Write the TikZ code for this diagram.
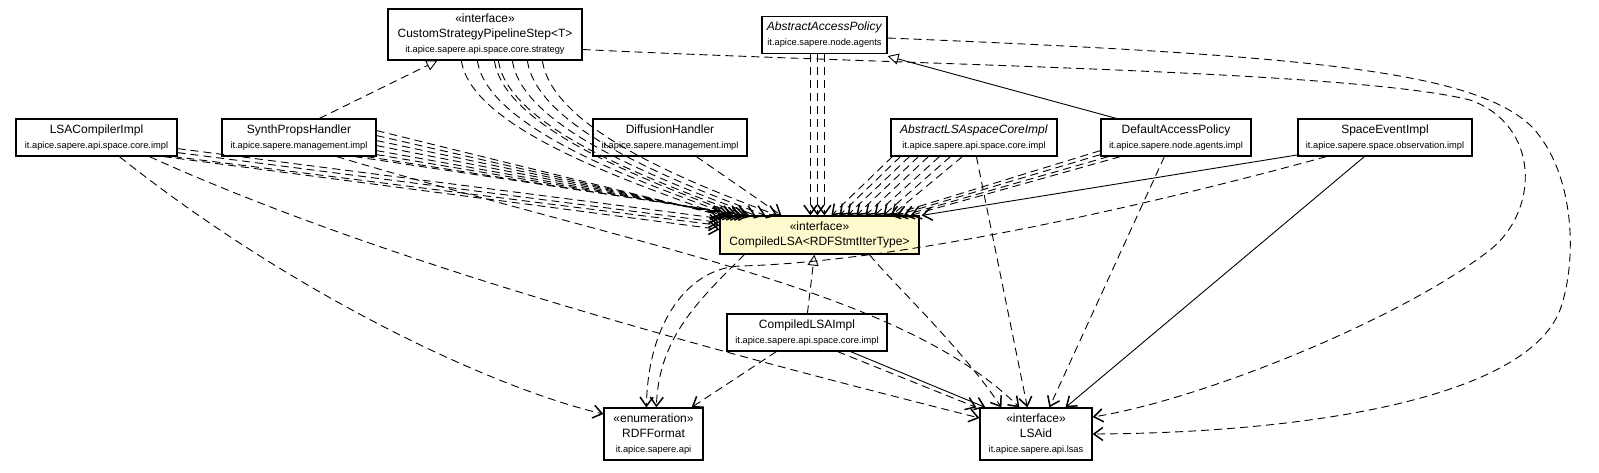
\documentclass[tikz,border=0pt]{standalone}
\usepackage{fontspec}
\setmainfont{Liberation Sans}
\usetikzlibrary{arrows.meta,calc}
\definecolor{lemon}{RGB}{255,250,205}
\newcommand{\pkg}[1]{{\fontsize{9.3}{11}\selectfont #1}}

\begin{document}
\begin{tikzpicture}[x=1pt,y=-1pt,
  cls/.style={draw,line width=1.2pt,fill=white,inner sep=0pt,align=center,font=\fontsize{12}{15}\selectfont},
  dep/.style={line width=0.9pt,dash pattern=on 8pt off 5pt,-{Straight Barb[length=9pt,width=13pt,line width=1.5pt]}},
  nav/.style={line width=0.9pt,-{Straight Barb[length=9pt,width=13pt,line width=1.5pt]}},
  real/.style={line width=0.9pt,dash pattern=on 8pt off 5pt,-{Triangle[length=11pt,width=11pt,fill=white]}},
  gen/.style={line width=0.9pt,-{Triangle[length=11pt,width=11pt,fill=white]}}]

  \fill[white] (0,0) rectangle (1599,472);
  \useasboundingbox (0,0) rectangle (1599,472);

  % classes
  \node[cls,minimum width=194pt,minimum height=51pt] (cssp) at (485,34.5)
    {«interface»\\CustomStrategyPipelineStep<T>\\\pkg{it.apice.sapere.api.space.core.strategy}};
  \node[cls,minimum width=125pt,minimum height=37pt] (aap) at (824.5,35)
    {\textit{AbstractAccessPolicy}\\\pkg{it.apice.sapere.node.agents}};
  \node[cls,minimum width=161pt,minimum height=37pt] (lsac) at (96.5,137.5)
    {LSACompilerImpl\\\pkg{it.apice.sapere.api.space.core.impl}};
  \node[cls,minimum width=154pt,minimum height=37pt] (synth) at (299,137.5)
    {SynthPropsHandler\\\pkg{it.apice.sapere.management.impl}};
  \node[cls,minimum width=154pt,minimum height=37pt] (diff) at (670,137.5)
    {DiffusionHandler\\\pkg{it.apice.sapere.management.impl}};
  \node[cls,minimum width=166pt,minimum height=37pt] (alsa) at (974,137.5)
    {\textit{AbstractLSAspaceCoreImpl}\\\pkg{it.apice.sapere.api.space.core.impl}};
  \node[cls,minimum width=150pt,minimum height=37pt] (dap) at (1176,137.5)
    {DefaultAccessPolicy\\\pkg{it.apice.sapere.node.agents.impl}};
  \node[cls,minimum width=174pt,minimum height=37pt] (sei) at (1385,137.5)
    {SpaceEventImpl\\\pkg{it.apice.sapere.space.observation.impl}};
  \node[cls,fill=lemon,minimum width=199pt,minimum height=38pt] (clsa) at (819.5,235)
    {«interface»\\CompiledLSA<RDFStmtIterType>};
  \node[cls,minimum width=160pt,minimum height=37pt] (clsai) at (807,332.5)
    {CompiledLSAImpl\\\pkg{it.apice.sapere.api.space.core.impl}};
  \node[cls,minimum width=99pt,minimum height=52pt] (rdf) at (653.5,434)
    {«enumeration»\\RDFFormat\\\pkg{it.apice.sapere.api}};
  \node[cls,minimum width=112pt,minimum height=52pt] (lsaid) at (1036,434)
    {«interface»\\LSAid\\\pkg{it.apice.sapere.api.lsas}};

  % inheritance
  \draw[real] ($(synth.north west)+(98,0)$) -- ($(cssp.south west)+(50,0)$);
  \draw[gen] ($(dap.north west)+(16,0)$) -- ($(aap.south east)+(0,2)$);
  \draw[real] ($(clsai.north west)+(81,0)$) -- ($(clsa.south west)+(95,0)$);

  % dependencies on CompiledLSA
  \foreach \a/\b in {74/2,90/12,107/20,111/27,125/36,140/46,155/58}
    \draw[dep] ($(cssp.south west)+(\a,0)$) .. controls +(10,70) and +(-80,-30) .. ($(clsa.north west)+(\b,0)$);
  \foreach \a/\b/\c in {0/-8/3,0/-4/7,-4/0/10,-14/0/14}
    \draw[dep] ($(lsac.south east)+(\a,\b)$) -- ($(clsa.north west)+(0,\c)$);
  \foreach \a/\b/\c in {0/-26/2,0/-21/6,0/-16/10,0/-11/14,0/-6/18,0/-2/22,-10/0/26,-22/0/30}
    \draw[dep] ($(synth.south east)+(\a,\b)$) -- ($(clsa.north west)+(\c,0)$);
  \draw[dep] ($(diff.south west)+(104,0)$) -- ($(clsa.north west)+(62,0)$);
  \foreach \a/\b in {49/91,56/98,63/105}
    \draw[dep] ($(aap.south west)+(\a,0)$) -- ($(clsa.north west)+(\b,0)$);
  \foreach \a/\b in {2/112,10/120,19/128,28/137,38/146,49/155,60/164,72/172}
    \draw[dep] ($(alsa.south west)+(\a,0)$) -- ($(clsa.north west)+(\b,0)$);
  \foreach \a/\b/\c in {0/-6/-30,0/-2/-23,8/0/-16,20/0/-9}
    \draw[dep] ($(dap.south west)+(\a,\b)$) -- ($(clsa.north east)+(\c,0)$);
  \draw[nav] ($(sei.south west)+(2,-2)$) -- ($(clsa.north east)+(2,0)$);

  % dependencies on LSAid
  \draw[dep] ($(aap.east)+(0,3)$) .. controls (1300,55) and (1470,70) .. (1530,125)
    .. controls (1575,170) and (1578,260) .. (1560,310)
    .. controls (1525,400) and (1300,433) .. (lsaid.east);
  \draw[dep] ($(cssp.east)+(0,15)$) .. controls (900,65) and (1350,70) .. (1470,100)
    .. controls (1540,125) and (1540,210) .. (1490,250)
    .. controls (1400,320) and (1200,400) .. ($(lsaid.east)+(0,-17)$);
  \draw[nav] ($(sei.south west)+(67,0)$) -- ($(lsaid.north east)+(-27,0)$);
  \draw[dep] ($(alsa.south west)+(86,0)$) -- ($(lsaid.north west)+(48,0)$);
  \draw[dep] ($(dap.south west)+(64,0)$) -- ($(lsaid.north west)+(70,0)$);
  \draw[dep] ($(clsa.south west)+(150,0)$) .. controls +(20,25) and +(-40,-60) .. ($(lsaid.north west)+(22,0)$);
  \draw[dep] ($(clsai.south east)+(-50,0)$) -- ($(lsaid.north west)+(-3,0)$);
  \draw[nav] ($(clsai.south east)+(-37,0)$) -- ($(lsaid.north west)+(6,0)$);
  \draw[dep] ($(synth.south east)+(-40,0)$) .. controls (650,250) and (900,290) .. ($(lsaid.north west)+(40,0)$);
  \draw[dep] ($(lsac.south west)+(134,0)$) .. controls (400,270) and (750,360) .. ($(lsaid.west)+(0,-16)$);

  % dependencies on RDFFormat
  \draw[dep] ($(lsac.south west)+(104,0)$) .. controls (300,300) and (500,390) .. ($(rdf.west)+(0,-20)$);
  \draw[dep] ($(sei.south west)+(29,0)$) .. controls (1150,205) and (900,262) .. (740,266)
    .. controls (690,268) and (648,320) .. ($(rdf.north west)+(43,0)$);
  \draw[dep] ($(clsa.south west)+(25,0)$) .. controls +(-45,45) and +(2,-70) .. ($(rdf.north west)+(53,0)$);
  \draw[dep] ($(clsai.south west)+(50,0)$) -- ($(rdf.north east)+(-12,0)$);

\end{tikzpicture}
\end{document}
